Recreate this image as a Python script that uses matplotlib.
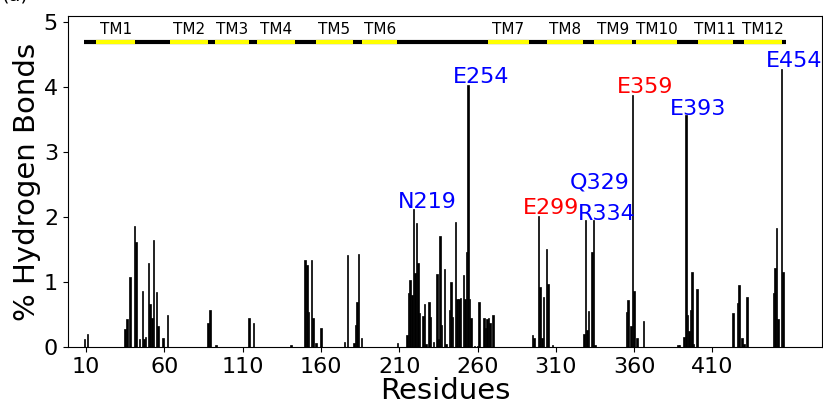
import matplotlib
matplotlib.use("Agg")
import matplotlib.pyplot as plt
import numpy as np

# ── Hydrogen bond occupancy per residue ──────────────────────
residues = [9, 11, 35, 36, 38, 41, 42, 44, 46, 47, 48, 50, 51, 52, 53, 55, 56, 59, 62,
            88, 89, 93, 114, 117, 141, 150, 151, 152, 154, 155, 157, 160,
            175, 177, 181, 182, 183, 184, 186, 209,
            215, 216, 217, 218, 219, 220, 221, 222, 223, 225, 226, 227, 229, 230,
            232, 234, 235, 236, 237, 239, 240, 242, 243, 244, 246, 247, 248, 249,
            251, 252, 253, 254, 255, 256, 258, 260, 261, 264, 265, 266, 267, 268, 270,
            295, 296, 299, 300, 301, 302, 304, 305, 308,
            328, 329, 330, 331, 333, 334, 335,
            355, 356, 358, 359, 360, 362, 366,
            388, 389, 392, 393, 394, 395, 396, 397, 398, 400,
            423, 426, 427, 429, 430, 432,
            449, 450, 451, 452, 454, 455]
hbond_pct = [0.13, 0.21, 0.28, 0.44, 1.08, 1.86, 1.62, 0.13, 0.86, 0.13, 0.16, 1.30, 0.67, 0.45, 1.65,
             0.85, 0.33, 0.15, 0.49,
             0.38, 0.57, 0.03, 0.45, 0.38, 0.04, 1.35, 1.26, 0.55, 1.34, 0.45, 0.06, 0.29,
             0.08, 1.42, 0.07, 0.34, 0.69, 1.44, 0.14, 0.07,
             0.19, 0.83, 1.04, 0.80, 2.12, 1.14, 1.91, 1.29, 0.52, 0.48, 0.67, 0.05, 0.70, 0.47,
             0.08, 1.12, 0.13, 1.71, 0.34, 1.21, 0.05, 0.57, 1.01, 0.46, 1.92, 0.74, 0.74, 0.76,
             1.11, 0.74, 1.46, 4.03, 0.74, 0.45, 0.02, 0.02, 0.69, 0.45, 0.30, 0.43, 0.45, 0.38, 0.50,
             0.19, 0.15, 2.02, 0.93, 0.15, 0.78, 1.51, 0.98, 0.04,
             0.21, 1.96, 0.27, 0.56, 1.46, 1.96, 0.04,
             0.54, 0.72, 0.32, 3.88, 0.86, 0.15, 0.40,
             0.03, 0.03, 0.16, 3.57, 0.49, 0.25, 0.58, 1.16, 0.05, 0.89,
             0.52, 0.68, 0.96, 0.15, 0.05, 0.77,
             0.83, 1.22, 1.84, 0.44, 4.28, 1.16]

# ── Labelled residues (label, residue, text height, colour) ──
lab_names = ["N219", "E254", "E299", "Q329", "R334", "E359", "E393", "E454"]
lab_res = [219, 254, 299, 329, 334, 359, 393, 454]
lab_y = [2.12, 4.03, 2.02, 2.42, 1.93, 3.88, 3.55, 4.28]
lab_col = ["blue", "blue", "red", "blue", "blue", "red", "blue", "blue"]

# ── Transmembrane helices (start, end) ───────────────────────
tm_names = ["TM1", "TM2", "TM3", "TM4", "TM5", "TM6",
            "TM7", "TM8", "TM9", "TM10", "TM11", "TM12"]
tm_start = [16.5, 63.3, 92.4, 119.4, 156.7, 186.4, 266.5, 304.3, 334.4, 361.4, 400.6, 430.4]
tm_end = [41.4, 88.1, 114.3, 143.3, 180.5, 208.7, 293.0, 327.4, 358.5, 387.1, 423.1, 454.4]
seq_start, seq_end = 8.5, 457
tm_y = 4.7

fig = plt.figure(figsize=(8.23, 4.07), dpi=100)
ax = fig.add_axes([0.0823, 0.1467, 0.9169, 0.8147])

ax.bar(residues, hbond_pct, width=1.0, color="black", edgecolor="black", linewidth=0.5)

for name, r, y, c in zip(lab_names, lab_res, lab_y, lab_col):
    ax.text(r - 10, y + 0.03, name, color=c, fontsize=16, ha="left", va="baseline")

# membrane topology strip
ax.plot([seq_start, seq_end], [tm_y, tm_y], color="black", lw=3, solid_capstyle="butt")
for name, s, e in zip(tm_names, tm_start, tm_end):
    ax.plot([s, e], [tm_y, tm_y], color="yellow", lw=3, solid_capstyle="butt")
    ax.text((s + e) / 2, 4.89, name, fontsize=11, ha="center", va="center")

ax.set_xlim(-1.7, 480.2)
ax.set_ylim(0, 5.1)
ax.set_xticks(np.arange(10, 411, 50))
ax.set_yticks(range(6))
ax.tick_params(labelsize=16)
ax.set_xlabel("Residues", fontsize=21, labelpad=0)
ax.set_ylabel("% Hydrogen Bonds", fontsize=21, labelpad=2)

fig.text(0.002, 1.012, "(a)", fontsize=14, ha="left", va="center")

fig.savefig("out.png", dpi=100)
